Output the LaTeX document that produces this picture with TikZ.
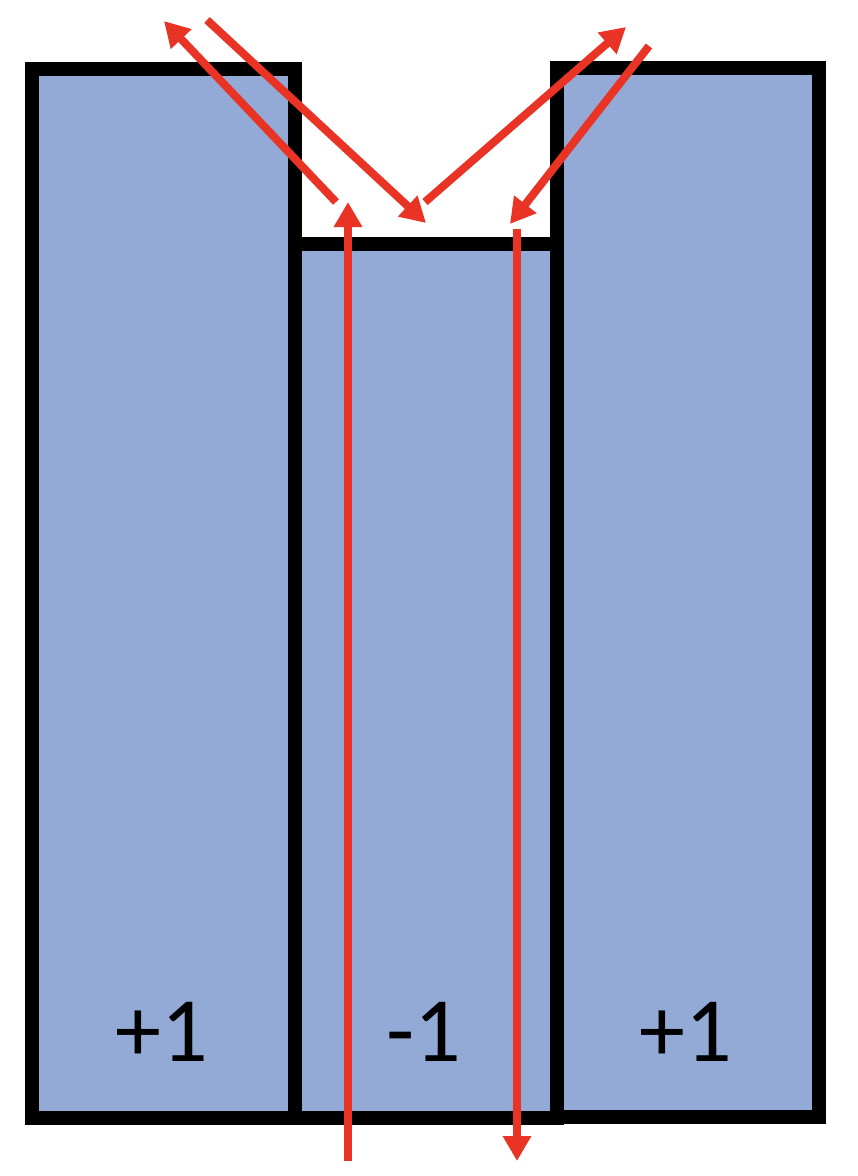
\documentclass[tikz,border=0pt]{standalone}
\usepackage{fontspec}
\setmainfont{Carlito}
\usetikzlibrary{arrows.meta, positioning}
\definecolor{slab}{RGB}{147,170,215}
\definecolor{ray}{RGB}{233,51,36}

\begin{document}
\begin{tikzpicture}[x=1pt, y=-1pt,
    cell/.style={draw=black, fill=slab, line width=14pt, inner sep=0pt, outer sep=0pt},
    sign/.style={font=\fontsize{92}{92}\selectfont, inner sep=0pt},
    beam/.style={draw=ray, line width=8pt, -{Triangle[length=25pt, width=27pt]}}]
    \useasboundingbox (0,0) rectangle (858,1176);
    \node[cell, minimum width=263pt, minimum height=1049pt] (lft) at (163.5,593.5) {};
    \node[cell, minimum width=262pt, minimum height=874pt] (mid) at (426,681) {};
    \node[cell, minimum width=262pt, minimum height=1048.5pt] (rgt) at (688,592.25) {};
    \node[sign] (lsign) at (161.5,1031.5) {+1};
    \node[sign] (msign) at (424,1031.5) {-1};
    \node[sign] (rsign) at (686,1031.5) {+1};
    % rays
    \coordinate (inA) at (348,1161);
    \coordinate (topA) at (348,202);
    \coordinate (outA) at (336,202);
    \coordinate (farA) at (164,21);
    \coordinate (inB) at (207,20);
    \coordinate (hitB) at (426,223);
    \coordinate (outB) at (425,202);
    \coordinate (farB) at (626,27);
    \coordinate (inC) at (649,46);
    \coordinate (hitC) at (510,224);
    \coordinate (topC) at (517,229);
    \coordinate (botC) at (517,1161);
    \draw[beam] (inA) -- (topA);
    \draw[beam] (outA) -- (farA);
    \draw[beam] (inB) -- (hitB);
    \draw[beam] (outB) -- (farB);
    \draw[beam] (inC) -- (hitC);
    \draw[beam] (topC) -- (botC);
\end{tikzpicture}
\end{document}
